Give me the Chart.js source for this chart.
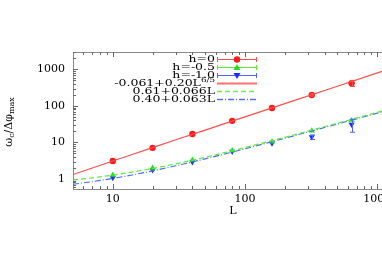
<!DOCTYPE html>
<html>
<head>
<meta charset="utf-8">
<script src="https://cdn.jsdelivr.net/npm/chart.js@4"></script>
<style>
  html, body { margin: 0; padding: 0; background: #fff; overflow: hidden; }
  #wrap { width: 430px; height: 273px; }
</style>
</head>
<body>
<div id="wrap"><canvas id="c"></canvas></div>
<script>
'use strict';

// system sizes
const sizesL = [10, 20, 40, 80, 160, 320, 640];

const h0Vals = [3.1, 7.1, 17, 39, 88, 200, 420];
const h0Err = [0, 0, 0, 0, 0, 15, 80];
const h05Vals = [1.29, 2.0, 3.3, 6.0, 10.5, 21, 40];
const h05Err = [0, 0, 0, 0, 0, 0, 3];
const h10Vals = [1.07, 1.76, 2.9, 5.6, 9.5, 14, 31];
const h10Err = [0, 0, 0, 0, 0, 2, 12];

// fit curves, sampled
const fitL = [5, 7, 10, 14, 20, 30, 50, 70, 100, 200, 500, 1100, 2000];
const fitRed = [1.32, 2.0, 3.11, 4.68, 7.22, 11.8, 21.8, 32.6, 50.2, 115.4, 346.5, 894, 1830];
const fitGreen = [0.94, 1.07, 1.27, 1.53, 1.93, 2.59, 3.91, 5.23, 7.21, 13.8, 33.6, 73.2, 132.6];
const fitBlue = [0.715, 0.84, 1.03, 1.28, 1.66, 2.29, 3.55, 4.81, 6.7, 13.0, 31.9, 69.7, 126.4];

// axes
const xMajor = [10, 100, 1000];
const xMinor = [6, 7, 8, 9, 20, 30, 40, 50, 60, 70, 80, 90, 200, 300, 400, 500, 600, 700, 800, 900, 2000];
const yMajor = [1, 10, 100, 1000];
const yMinor = [0.6, 0.7, 0.8, 0.9, 2, 3, 4, 5, 6, 7, 8, 9, 20, 30, 40, 50, 60, 70, 80, 90,
  200, 300, 400, 500, 600, 700, 800, 900, 2000, 3000];

const RED = '#ff1a1a', GREEN = '#22dd22', BLUE = '#1a2cff';
const LRED = '#ff4d4d', LGREEN = '#55ee33', LBLUE = '#4a66ff';
const FONT = '"DejaVu Serif", "Liberation Serif", serif';

function pts(xs, ys) {
  return xs.map(function(x, i) { return { x: x, y: ys[i] }; });
}

const legendRows = [
  { text: 'h=0', color: LRED, marker: 'circle', mcolor: RED },
  { text: 'h=-0.5', color: LGREEN, marker: 'up', mcolor: GREEN },
  { text: 'h=-1.0', color: LBLUE, marker: 'down', mcolor: BLUE },
  { text: '-0.061+0.20L', sup: '6/5', color: '#ff7070', dash: [], lw: 2 },
  { text: '0.61+0.066L', color: '#66ee44', dash: [5, 3], lw: 1.5 },
  { text: '0.40+0.063L', color: '#5070ff', dash: [6, 2, 1, 2], lw: 1.5 }
];

function drawMarker(ctx, kind, x, y, color) {
  ctx.fillStyle = color;
  ctx.beginPath();
  if (kind === 'circle') ctx.arc(x, y, 3.2, 0, Math.PI * 2);
  else if (kind === 'up') { ctx.moveTo(x, y - 3.5); ctx.lineTo(x + 3.5, y + 2.5); ctx.lineTo(x - 3.5, y + 2.5); }
  else { ctx.moveTo(x, y + 3.5); ctx.lineTo(x + 3.5, y - 2.5); ctx.lineTo(x - 3.5, y - 2.5); }
  ctx.closePath();
  ctx.fill();
}

// legend text is a bit wider than tall in the reference
const SX = 1.25;

const decor = {
  id: 'decor',
  beforeDatasetsDraw(chart) {
    const ctx = chart.ctx, a = chart.chartArea;
    const xs = chart.scales.x, ys = chart.scales.y;
    ctx.save();
    // border
    ctx.strokeStyle = '#888';
    ctx.lineWidth = 1;
    ctx.strokeRect(a.left + 0.5, a.top + 0.5, a.right - a.left, a.bottom - a.top);
    // ticks inward
    ctx.strokeStyle = '#666';
    ctx.beginPath();
    function xt(v, len) {
      const p = Math.round(xs.getPixelForValue(v)) + 0.5;
      if (p < a.left || p > a.right) return;
      ctx.moveTo(p, a.bottom); ctx.lineTo(p, a.bottom - len);
      ctx.moveTo(p, a.top); ctx.lineTo(p, a.top + len);
    }
    function yt(v, len) {
      const p = Math.round(ys.getPixelForValue(v)) + 0.5;
      if (p < a.top || p > a.bottom) return;
      ctx.moveTo(a.left, p); ctx.lineTo(a.left + len, p);
      ctx.moveTo(a.right, p); ctx.lineTo(a.right - len, p);
    }
    xMajor.forEach(function(v) { xt(v, 5); });
    xMinor.forEach(function(v) { xt(v, 3); });
    yMajor.forEach(function(v) { yt(v, 5); });
    yMinor.forEach(function(v) { yt(v, 3); });
    ctx.stroke();
    ctx.restore();
  },
  afterDatasetsDraw(chart) {
    const ctx = chart.ctx;
    const xs = chart.scales.x, ys = chart.scales.y;
    ctx.save();
    // error bars
    [[h0Vals, h0Err, LRED], [h05Vals, h05Err, LGREEN], [h10Vals, h10Err, LBLUE]].forEach(function(s) {
      ctx.strokeStyle = s[2];
      ctx.lineWidth = 1;
      sizesL.forEach(function(L, i) {
        const e = s[1][i];
        if (!e) return;
        const px = Math.round(xs.getPixelForValue(L)) + 0.5;
        const y1 = ys.getPixelForValue(s[0][i] + e), y2 = ys.getPixelForValue(s[0][i] - e);
        ctx.beginPath();
        ctx.moveTo(px, y1); ctx.lineTo(px, y2);
        ctx.moveTo(px - 2.5, y1); ctx.lineTo(px + 2.5, y1);
        ctx.moveTo(px - 2.5, y2); ctx.lineTo(px + 2.5, y2);
        ctx.stroke();
      });
    });
    // legend
    const tx = 215, lx0 = 217, lx1 = 257;
    legendRows.forEach(function(r, i) {
      const y = 59 + i * 8;
      ctx.save();
      ctx.translate(tx, y);
      ctx.scale(SX, 1);
      ctx.font = '10px ' + FONT;
      ctx.fillStyle = '#000';
      ctx.textAlign = 'right';
      ctx.textBaseline = 'middle';
      if (r.sup) {
        ctx.font = '7px ' + FONT;
        const sw = ctx.measureText(r.sup).width;
        ctx.fillText(r.sup, 0, -3);
        ctx.font = '10px ' + FONT;
        ctx.fillText(r.text, -sw, 0);
      } else {
        ctx.fillText(r.text, 0, 0);
      }
      ctx.restore();
      ctx.strokeStyle = r.color;
      ctx.lineWidth = r.lw || 1;
      ctx.setLineDash(r.dash || []);
      ctx.beginPath();
      ctx.moveTo(lx0, y + 0.5); ctx.lineTo(lx1, y + 0.5);
      ctx.stroke();
      ctx.setLineDash([]);
      if (r.marker) {
        ctx.beginPath();
        ctx.moveTo(lx0 + 0.5, y - 2); ctx.lineTo(lx0 + 0.5, y + 3);
        ctx.moveTo(lx1 - 0.5, y - 2); ctx.lineTo(lx1 - 0.5, y + 3);
        ctx.stroke();
        drawMarker(ctx, r.marker, 237, y + 0.5, r.mcolor);
      }
    });
    // axis titles
    ctx.fillStyle = '#000';
    ctx.textAlign = 'center';
    ctx.textBaseline = 'middle';
    ctx.font = '11px ' + FONT;
    ctx.fillText('L', 233, 211);
    ctx.translate(9, 122);
    ctx.rotate(-Math.PI / 2);
    const parts = [['ω', 0], ['c', 1], ['/Δφ', 0], ['max', 1]];
    let w = 0;
    parts.forEach(function(p) { ctx.font = (p[1] ? '8px ' : '11px ') + FONT; w += ctx.measureText(p[0]).width; });
    let x = -w / 2;
    ctx.textAlign = 'left';
    parts.forEach(function(p) {
      ctx.font = (p[1] ? '8px ' : '11px ') + FONT;
      ctx.fillText(p[0], x, p[1] ? 3 : 0);
      x += ctx.measureText(p[0]).width;
    });
    ctx.restore();
  }
};

new Chart(document.getElementById('c'), {
  type: 'scatter',
  data: {
    datasets: [
      { data: pts(fitL, fitRed), showLine: true, borderColor: LRED, borderWidth: 1.2, pointRadius: 0, tension: 0 },
      { data: pts(fitL, fitGreen), showLine: true, borderColor: LGREEN, borderWidth: 1.2, borderDash: [5, 3], pointRadius: 0 },
      { data: pts(fitL, fitBlue), showLine: true, borderColor: LBLUE, borderWidth: 1.1, borderDash: [6, 2, 1, 2], pointRadius: 0 },
      { data: pts(sizesL, h0Vals), pointStyle: 'circle', pointRadius: 3.2, backgroundColor: RED, borderColor: RED, borderWidth: 0 },
      { data: pts(sizesL, h05Vals), pointStyle: 'triangle', pointRadius: 3.5, backgroundColor: GREEN, borderColor: GREEN, borderWidth: 0 },
      { data: pts(sizesL, h10Vals), pointStyle: 'triangle', pointRotation: 180, pointRadius: 3.5, backgroundColor: BLUE, borderColor: BLUE, borderWidth: 0 }
    ]
  },
  options: {
    responsive: true,
    maintainAspectRatio: false,
    animation: false,
    layout: { padding: { left: 0, right: 13, top: 52, bottom: 0 } },
    plugins: { legend: { display: false }, tooltip: { enabled: false } },
    scales: {
      x: {
        type: 'logarithmic', min: 5, max: 2000,
        grid: { display: false, drawTicks: false },
        border: { display: false },
        afterFit: function(s) { s.height = 84; },
        afterBuildTicks: function(s) { s.ticks = xMajor.map(function(v) { return { value: v }; }); },
        ticks: { padding: 4, color: '#000', font: { family: FONT, size: 11 }, maxRotation: 0, autoSkip: false,
          callback: function(v) { return String(v); } }
      },
      y: {
        type: 'logarithmic', min: 0.53, max: 3000,
        grid: { display: false, drawTicks: false },
        border: { display: false },
        afterFit: function(s) { s.width = 73; },
        afterBuildTicks: function(s) { s.ticks = yMajor.map(function(v) { return { value: v }; }); },
        ticks: { padding: 8, color: '#000', font: { family: FONT, size: 11 }, autoSkip: false,
          callback: function(v) { return String(v); } }
      }
    }
  },
  plugins: [decor]
});
</script>
</body>
</html>
